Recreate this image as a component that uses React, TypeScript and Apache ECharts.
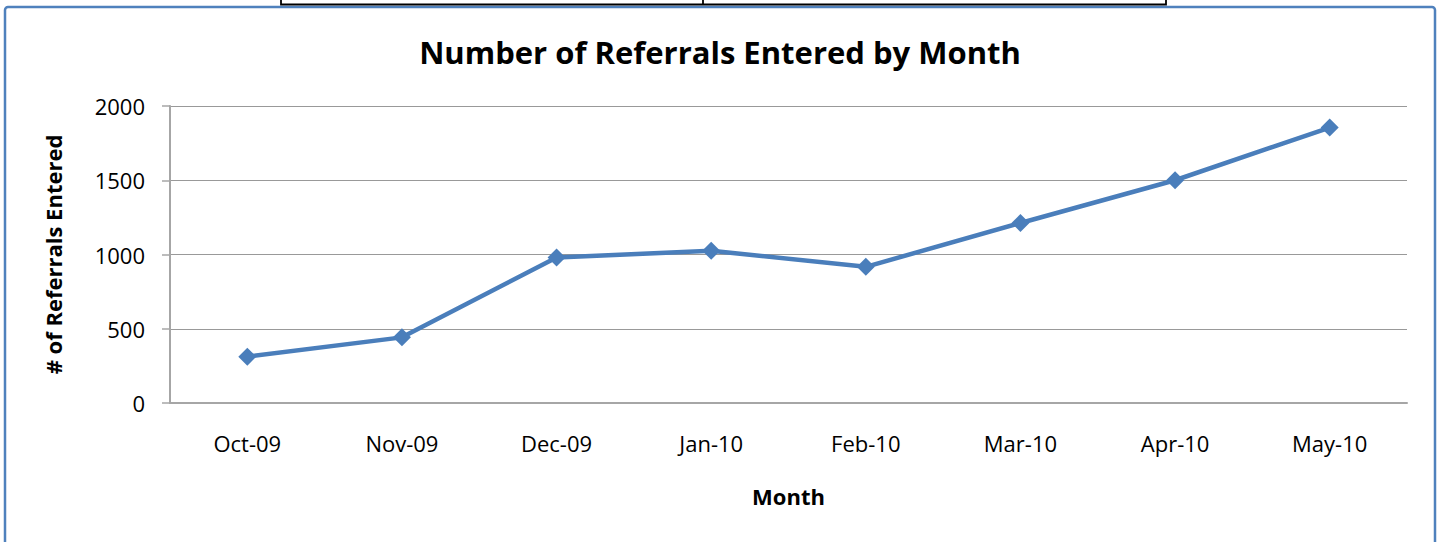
import React, { useEffect, useRef } from "react";
import * as echarts from "echarts";

const months = ["Oct-09", "Nov-09", "Dec-09", "Jan-10", "Feb-10", "Mar-10", "Apr-10", "May-10"];
const referrals = [312, 442, 980, 1025, 917, 1212, 1500, 1855];
const yTicks = [0, 500, 1000, 1500, 2000];
const titleText = "Number of Referrals Entered by Month";
const yName = "# of Referrals Entered";
const xName = "Month";

export default function App() {
  const ref = useRef<HTMLDivElement>(null);
  useEffect(() => {
    if (!ref.current) return;
    const chart = echarts.init(ref.current, null, { renderer: "svg" });
    const font = "'Open Sans', Lato, sans-serif";
    chart.setOption({
      animation: false,
      backgroundColor: "#ffffff",
      textStyle: { fontFamily: font },
      title: {
        text: titleText,
        left: "center",
        top: 31,
        textStyle: { fontFamily: font, fontSize: 31, fontWeight: "bold", color: "#000000" },
      },
      grid: { left: 170, right: 33, top: 106, bottom: 139, containLabel: false },
      xAxis: {
        type: "category",
        data: months,
        boundaryGap: true,
        name: xName,
        nameLocation: "middle",
        nameGap: 82,
        nameTextStyle: { fontFamily: font, fontSize: 22, fontWeight: "bold", color: "#000000" },
        axisLine: { show: true, lineStyle: { color: "#A6A6A6", width: 2 } },
        axisTick: { show: false },
        axisLabel: { margin: 29, fontFamily: font, fontSize: 22, color: "#000000" },
        splitLine: { show: false },
      },
      yAxis: {
        type: "value",
        min: yTicks[0],
        max: yTicks[yTicks.length - 1],
        interval: 500,
        name: yName,
        nameLocation: "middle",
        nameGap: 106,
        nameRotate: 90,
        nameTextStyle: { fontFamily: font, fontSize: 22, fontWeight: "bold", color: "#000000" },
        axisLine: { show: true, lineStyle: { color: "#A6A6A6", width: 2 } },
        axisTick: { show: true, length: 8, lineStyle: { color: "#A6A6A6", width: 1.5 } },
        axisLabel: {
          margin: 25,
          fontFamily: font,
          fontSize: 22,
          color: "#000000",
          formatter: (v: number) => String(v),
        },
        splitLine: { show: true, lineStyle: { color: "#999999", width: 1.2 } },
      },
      series: [
        {
          type: "line",
          data: referrals,
          symbol: "diamond",
          symbolSize: 18,
          itemStyle: { color: "#4A7EBB" },
          lineStyle: { color: "#4A7EBB", width: 4.5 },
        },
      ],
      graphic: [
        {
          type: "rect",
          shape: { x: 5, y: 7, width: 1430, height: 560, r: 3 },
          style: { fill: "none", stroke: "#4F81BD", lineWidth: 2.5 },
          silent: true,
        },
        {
          type: "rect",
          shape: { x: 281, y: -10, width: 885, height: 14.5 },
          style: { fill: "none", stroke: "#000000", lineWidth: 1.8 },
          silent: true,
        },
        {
          type: "line",
          shape: { x1: 703, y1: 0, x2: 703, y2: 4.5 },
          style: { stroke: "#000000", lineWidth: 1.8 },
          silent: true,
        },
      ],
    });
    return () => chart.dispose();
  }, []);
  return (
    <div
      ref={ref}
      style={{ position: "absolute", left: 0, top: 0, width: 1440, height: 542 }}
    />
  );
}
